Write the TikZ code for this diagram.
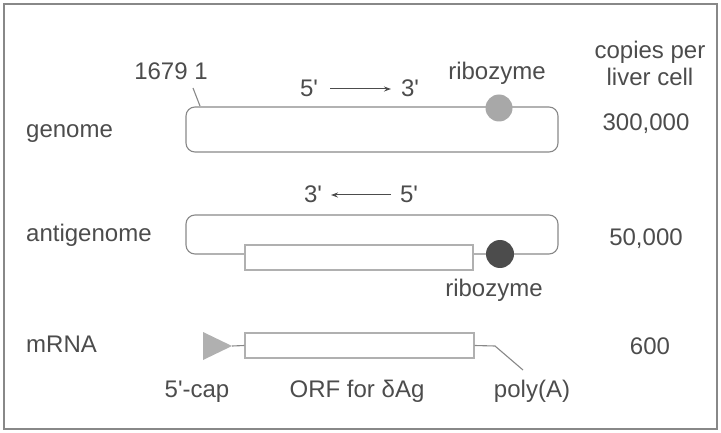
\documentclass[tikz,border=0pt]{standalone}
\usepackage{fontspec}
\setmainfont{Liberation Sans}
\usetikzlibrary{arrows.meta}
\definecolor{txt}{HTML}{4C4C4C}
\definecolor{ln}{HTML}{888888}
\definecolor{lnlight}{HTML}{B0B0B0}
\newcommand\pq{\textquotesingle}
\begin{document}
\begin{tikzpicture}[x=1pt,y=-1pt,
  lbl/.style={text=txt,font=\fontsize{24}{27}\selectfont,inner sep=0pt},
  rnabox/.style={draw=ln,line width=1.1pt,rounded corners=9pt,inner sep=0pt},
  orfbox/.style={draw=lnlight,line width=1.1pt,fill=white,inner sep=0pt},
  strand/.style={draw=ln,line width=1.1pt},
  polar/.style={draw=txt,line width=1pt,-{Stealth[length=7pt,width=5pt]}}]
\useasboundingbox (0,0) rectangle (721,433);
\draw[draw=ln,line width=2.2pt] (4,4) rectangle (717,429);

% header
\node[lbl,anchor=base] (cp1) at (650,59) {copies per};
\node[lbl,anchor=base] (cp2) at (650,86) {liver cell};

% genome
\node[lbl,anchor=base west] (lgen) at (26,138) {genome};
\node[lbl,anchor=base] (ngen) at (646,131) {300,000};
\node[rnabox,minimum width=372pt,minimum height=45pt] (gbox) at (372,129.5) {};
\node[circle,fill=lnlight!80!ln,inner sep=0pt,minimum size=27pt] (grib) at (499,108) {};
\node[lbl,anchor=base] (lrib1) at (497,80) {ribozyme};
\node[lbl,anchor=base] (l1679) at (171,80) {1679 1};
\coordinate (tickA) at (193,88);
\coordinate (tickB) at (200,106);
\draw[strand] (tickA) -- (tickB);
\node[lbl,anchor=base] (g5) at (309,97) {5\pq};
\node[lbl,anchor=base] (g3) at (410,97) {3\pq};
\coordinate (ga1) at (330,89);
\coordinate (ga2) at (391,89);
\draw[polar] (ga1) -- (ga2);

% antigenome
\node[lbl,anchor=base west] (lanti) at (26,242) {antigenome};
\node[lbl,anchor=base] (nanti) at (646,246) {50,000};
\node[lbl,anchor=base] (a3) at (313,203) {3\pq};
\node[lbl,anchor=base] (a5) at (409,203) {5\pq};
\coordinate (aa1) at (391,195);
\coordinate (aa2) at (331,195);
\draw[polar] (aa1) -- (aa2);
\node[rnabox,minimum width=372pt,minimum height=39pt] (abox) at (372,234.5) {};
\node[orfbox,minimum width=228pt,minimum height=25pt] (aorf) at (359,257.5) {};
\node[circle,fill=txt,inner sep=0pt,minimum size=28pt] (arib) at (500,254) {};
\node[lbl,anchor=base] (lrib2) at (494,296) {ribozyme};

% mRNA
\node[lbl,anchor=base west] (lmrna) at (26,352) {mRNA};
\node[lbl,anchor=base] (nmrna) at (650,354) {600};
\node[orfbox,minimum width=229pt,minimum height=25pt] (morf) at (359.5,345.5) {};
\fill[lnlight] (203,332) -- (203,360) -- (232,346) -- cycle;
\coordinate (cap) at (232,346);
\draw[strand] (cap) -- (morf.west);
\coordinate (pa1) at (495,346);
\coordinate (pa2) at (523,370);
\draw[strand] (morf.east) -- (pa1) -- (pa2);
\node[lbl,anchor=base] (lcap) at (197,397) {5\pq-cap};
\node[lbl,anchor=base] (lorf) at (357,397) {ORF for δAg};
\node[lbl,anchor=base] (lpoly) at (532,397) {poly(A)};
\end{tikzpicture}
\end{document}
